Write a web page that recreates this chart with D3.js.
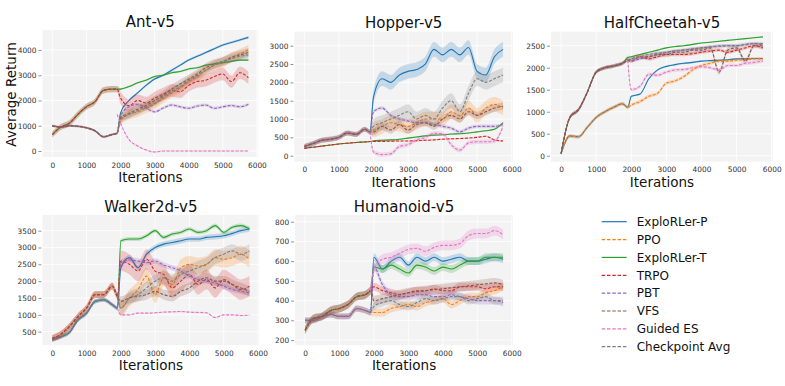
<!DOCTYPE html>
<html>
<head>
<meta charset="utf-8">
<script src="https://cdn.jsdelivr.net/npm/d3@7"></script>
<style>
  body { margin: 0; background: #fff; }
  svg { display: block; font-family: "DejaVu Sans", sans-serif; }
</style>
</head>
<body>
<script>
var iters = [0, 250, 500, 750, 1000, 1250, 1500, 1750, 1900, 2000, 2250, 2500, 2750,
             3000, 3250, 3500, 3750, 4000, 4250, 4500, 4750, 5000, 5250, 5500, 5750];

var methods = ['ExploRLer-P', 'PPO', 'ExploRLer-T', 'TRPO', 'PBT', 'VFS', 'Guided ES', 'Checkpoint Avg'];
var xTicks = [0, 1000, 2000, 3000, 4000, 5000, 6000];

// rows follow `methods`; null = no curve drawn there
var antReturns = [
  [1000,950,1000,980,920,800,560,650,700, 1500,2000,2300,2600,2850,3000,3200,3400,3600,3750,3900,4050,4200,4300,4400,4500],
  [1000,950,1000,980,920,800,560,650,700, 1200,1450,1550,1700,1850,2100,2300,2500,2750,2950,3200,3400,3500,3700,3850,4000],
  [650,950,1100,1450,1750,1950,2400,2450,2450, 2450,2550,2700,2800,2950,3000,3100,3150,3250,3300,3400,3450,3500,3550,3600,3600],
  [650,950,1100,1450,1750,1950,2400,2450,2450, 2100,1800,2000,1900,2100,2250,2400,2350,2600,2750,2800,2950,3050,2750,3100,2900],
  [1000,950,1000,980,920,800,560,650,700, 1400,1750,1850,1700,1550,1700,1820,1750,1690,1780,1820,1690,1750,1800,1750,1850],
  [1000,950,1000,980,920,800,560,650,700, 1300,1500,1650,1800,2000,2200,2450,2650,2850,3050,3300,3450,3550,3700,3800,3900],
  [null,null,null,null,null,null,null,null,1450, 1100,450,200,40,-40,0,0,0,0,0,0,0,0,0,0,0],
  [null,null,null,null,null,null,null,null,700, 1250,1450,1600,1750,1900,2150,2350,2550,2800,3000,3200,3400,3550,3650,3750,3800]
];
var antSpread = [[40,50],[40,200],[120,40],[120,250],[40,60],[40,180],[30,30],[40,150]];
var antTicks = [0, 1000, 2000, 3000, 4000];

var hopperReturns = [
  [250,330,420,450,500,620,580,720,650, 1600,2100,2000,2200,2300,2350,2500,2900,2750,2900,2750,2950,2300,2200,2700,2900],
  [250,330,420,450,500,620,580,720,650, 700,800,900,850,800,900,1000,1000,1000,1200,1100,1300,1100,1300,1400,1300],
  [200,230,260,290,320,340,360,375,385, 400,420,430,450,480,510,540,560,570,590,600,620,650,680,720,900],
  [200,230,260,290,320,340,360,375,385, 390,390,395,400,400,410,420,430,450,460,470,480,500,530,430,400],
  [250,330,420,450,500,620,580,720,650, 1200,1300,1100,1000,950,900,900,850,800,750,650,750,800,800,800,850],
  [250,330,420,450,500,620,580,720,650, 650,800,700,850,700,850,900,800,1000,1100,1000,1200,1100,1200,1300,1350],
  [null,null,null,null,null,null,null,null,650, 100,30,50,250,300,430,500,610,600,300,150,350,380,380,400,800],
  [null,null,null,null,null,null,null,null,650, 800,900,1000,1100,1200,1000,1100,1000,1300,1500,1200,1700,2100,2000,2100,2200]
];
var hopperSpread = [[60,200],[60,200],[10,20],[10,20],[70,50],[70,100],[60,60],[60,200]];
var hopperTicks = [0, 500, 1000, 1500, 2000, 2500, 3000];

var cheetahReturns = [
  [50,450,430,650,870,1000,1100,1180,1100, 1350,1400,1750,1950,2030,2070,2100,2120,2150,2160,2170,2180,2200,2200,2210,2210],
  [50,450,430,650,870,1000,1100,1180,1100, 1150,1230,1350,1420,1650,1700,1800,1950,2050,2100,2150,2150,2170,2180,2200,2200],
  [50,870,1050,1450,1900,2000,2040,2100,2230, 2250,2300,2350,2400,2450,2480,2500,2530,2560,2580,2600,2620,2640,2660,2680,2700],
  [50,870,1050,1450,1900,2000,2040,2100,2170, 2150,2250,2200,2250,2300,2300,2300,2320,2350,2380,2400,2350,2400,2450,2500,2450],
  [50,870,1050,1450,1900,2000,2040,2100,2170, 2150,2200,2250,2300,2350,2380,2400,2420,2450,2470,2500,2500,2500,2520,2550,2520],
  [50,870,1050,1450,1900,2000,2040,2100,2170, 2200,2250,2250,2300,2300,2350,2350,2400,2400,2450,1900,2400,2450,2150,2500,2500],
  [null,null,null,null,null,null,null,null,2170, 1500,1580,1850,1830,1900,1950,1960,2000,2020,2000,1950,2050,2050,2100,2120,2150],
  [null,null,null,null,null,null,null,null,2170, 2200,2250,2300,2330,2350,2380,2400,2430,2450,2470,2480,2500,2500,2530,2550,2550]
];
var cheetahSpread = [[40,20],[40,40],[40,15],[40,40],[40,30],[40,60],[40,40],[40,40]];
var cheetahTicks = [0, 500, 1000, 1500, 2000, 2500];

var walkerReturns = [
  [270,350,480,850,1050,1400,1450,1300,1200, 2400,2700,2400,2800,3000,3100,3150,3200,3250,3250,3300,3320,3350,3420,3500,3550],
  [300,420,650,950,1200,1600,1600,1850,1550, 1200,1500,1750,2150,1600,2100,1900,2400,2500,2450,2500,2700,2650,2700,2800,2650],
  [270,350,480,850,1050,1400,1450,1300,1200, 3200,3250,3250,3350,3500,3300,3400,3450,3550,3450,3500,3650,3450,3600,3650,3550],
  [300,420,650,950,1200,1600,1600,1850,1550, 2600,2500,2300,2650,2300,2200,1800,2000,2200,1900,2050,1800,2050,1900,1750,1850],
  [270,350,480,850,1050,1400,1450,1300,1200, 2550,2630,2600,2550,2600,2480,2400,2300,2150,2050,2000,1950,1850,1750,1700,1650],
  [300,420,650,950,1200,1600,1600,1850,1550, 1400,1500,1550,1600,1700,1600,1550,1700,1800,2000,2100,2000,2000,1900,1800,1700],
  [null,null,null,null,null,null,null,null,1200, 1000,1000,1050,1050,1060,1080,1090,1100,1080,1070,1060,920,1000,1000,980,990],
  [null,null,null,null,null,null,null,null,1550, 1200,1500,1600,1800,2000,2100,2000,2200,2300,2400,2500,2700,2800,2900,2800,2900]
];
var walkerSpread = [[60,80],[100,250],[60,60],[100,300],[60,80],[100,150],[60,20],[100,200]];
var walkerTicks = [500, 1000, 1500, 2000, 2500, 3000, 3500];

var humanoidReturns = [
  [300,300,320,330,320,320,360,350,340, 620,560,600,620,580,620,600,620,600,610,620,600,600,610,620,610],
  [300,300,320,330,320,320,360,350,340, 340,340,360,370,380,370,390,400,410,380,400,420,420,440,450,470],
  [250,310,320,350,360,380,420,430,450, 570,560,580,560,540,580,570,550,570,560,580,600,600,620,620,620],
  [250,310,320,350,360,380,420,430,450, 470,450,440,430,440,450,450,460,450,450,470,470,470,460,470,470],
  [300,300,320,330,320,320,360,350,340, 570,480,430,420,420,430,430,420,420,430,420,410,400,400,400,390],
  [250,310,320,350,360,380,420,430,450, 400,410,420,430,440,445,450,455,460,465,470,475,480,485,490,480],
  [null,null,null,null,null,null,null,null,450, 560,610,620,640,660,665,650,670,680,680,690,730,740,740,755,735],
  [null,null,null,null,null,null,null,null,340, 370,390,400,380,370,390,410,400,410,420,420,400,410,420,400,400]
];
var humanoidSpread = [[15,20],[15,20],[20,20],[20,20],[15,20],[20,25],[20,25],[15,20]];
var humanoidTicks = [200, 300, 400, 500, 600, 700, 800];

// styling
var colors = ['#1f77b4', '#ff7f0e', '#2ca02c', '#d62728', '#9467bd', '#8c564b', '#e377c2', '#7f7f7f'];
var dashed = [false, true, false, true, true, true, true, true];

var panels = [
  {title: 'Ant-v5', data: antReturns, spread: antSpread, ticks: antTicks,
   left: 42.5, right: 258.2, top: 30, bottom: 157, ydom: [-238, 4792], ylabel: true},
  {title: 'Hopper-v5', data: hopperReturns, spread: hopperSpread, ticks: hopperTicks,
   left: 294.4, right: 513, top: 31.7, bottom: 161.7, ydom: [-164, 3382]},
  {title: 'HalfCheetah-v5', data: cheetahReturns, spread: cheetahSpread, ticks: cheetahTicks,
   left: 551, right: 773, top: 31.7, bottom: 161.7, ydom: [-136, 2818]},
  {title: 'Walker2d-v5', data: walkerReturns, spread: walkerSpread, ticks: walkerTicks,
   left: 42.4, right: 259.3, top: 215, bottom: 345, ydom: [104, 3965]},
  {title: 'Humanoid-v5', data: humanoidReturns, spread: humanoidSpread, ticks: humanoidTicks,
   left: 295.1, right: 513, top: 215, bottom: 345, ydom: [175, 834]}
];

var svg = d3.select('body').append('svg').attr('width', 785).attr('height', 386);

panels.forEach(function(p, pi){
  var x = d3.scaleLinear().domain([-287.5, 6037.5]).range([p.left, p.right]);
  var y = d3.scaleLinear().domain(p.ydom).range([p.bottom, p.top]);
  var g = svg.append('g');

  g.append('rect')
    .attr('x', p.left).attr('y', p.top)
    .attr('width', p.right - p.left).attr('height', p.bottom - p.top)
    .attr('fill', '#f3f3f4');

  // white grid
  g.selectAll('line.gx').data(xTicks.filter(function(t){ return x(t) < p.right; })).enter()
    .append('line')
    .attr('x1', function(d){ return x(d); }).attr('x2', function(d){ return x(d); })
    .attr('y1', p.top).attr('y2', p.bottom)
    .attr('stroke', '#fff').attr('stroke-width', 0.8);
  g.selectAll('line.gy').data(p.ticks).enter()
    .append('line')
    .attr('y1', function(d){ return y(d); }).attr('y2', function(d){ return y(d); })
    .attr('x1', p.left).attr('x2', p.right)
    .attr('stroke', '#fff').attr('stroke-width', 0.8);

  g.append('clipPath').attr('id', 'clip' + pi)
    .append('rect')
    .attr('x', p.left).attr('y', p.top)
    .attr('width', p.right - p.left).attr('height', p.bottom - p.top);
  var plot = g.append('g').attr('clip-path', 'url(#clip' + pi + ')');

  var has = function(d){ return d.v != null; };
  var area = d3.area().curve(d3.curveMonotoneX).defined(has)
    .x(function(d){ return x(d.it); })
    .y0(function(d){ return y(d.v - d.s); })
    .y1(function(d){ return y(d.v + d.s); });
  var line = d3.line().curve(d3.curveMonotoneX).defined(has)
    .x(function(d){ return x(d.it); })
    .y(function(d){ return y(d.v); });

  p.data.forEach(function(vals, si){
    var pts = iters.map(function(it, i){
      return {it: it, v: vals[i], s: it < 1950 ? p.spread[si][0] : p.spread[si][1]};
    });
    plot.append('path').attr('d', area(pts))
      .attr('fill', colors[si]).attr('fill-opacity', 0.22).attr('stroke', 'none');
    plot.append('path').attr('d', line(pts))
      .attr('fill', 'none').attr('stroke', colors[si]).attr('stroke-width', 1.1)
      .attr('stroke-dasharray', dashed[si] ? '3,1.6' : null);
  });

  // axes
  var yAxis = g.append('g').attr('transform', 'translate(' + (p.left - 1) + ',0)')
    .call(d3.axisLeft(y).tickValues(p.ticks).tickSize(3).tickPadding(2).tickFormat(d3.format('d')));
  var xAxis = g.append('g').attr('transform', 'translate(0,' + p.bottom + ')')
    .call(d3.axisBottom(x).tickValues(xTicks).tickSize(0).tickPadding(5.5).tickFormat(d3.format('d')));
  [yAxis, xAxis].forEach(function(a){
    a.select('.domain').remove();
    a.selectAll('line').attr('stroke', '#666').attr('stroke-width', 0.7);
    a.selectAll('text').attr('fill', '#333').style('font-size', '7.4px')
      .style('font-family', '"DejaVu Sans", sans-serif');
  });

  g.append('text')
    .attr('x', (p.left + p.right) / 2).attr('y', p.top - 3.5)
    .attr('text-anchor', 'middle').style('font-size', '15px').attr('fill', '#111')
    .text(p.title);
  g.append('text')
    .attr('x', (p.left + p.right) / 2).attr('y', p.bottom + 25)
    .attr('text-anchor', 'middle').style('font-size', '13.5px').attr('fill', '#111')
    .text('Iterations');
  if (p.ylabel) {
    g.append('text')
      .attr('transform', 'translate(16,' + ((p.top + p.bottom) / 2 + 1) + ') rotate(-90)')
      .attr('text-anchor', 'middle').style('font-size', '13.5px').attr('fill', '#111')
      .text('Average Return');
  }
});

// legend
var legend = svg.append('g').attr('transform', 'translate(601.7,221.7)');
methods.forEach(function(m, i){
  var row = legend.append('g').attr('transform', 'translate(0,' + (i * 17.86) + ')');
  row.append('line').attr('x1', 0).attr('x2', 25).attr('y1', 0).attr('y2', 0)
    .attr('stroke', colors[i]).attr('stroke-width', 1.2)
    .attr('stroke-dasharray', dashed[i] ? '3.5,1.8' : null);
  row.append('text').attr('x', 35).attr('y', 4.3)
    .style('font-size', '12px').attr('fill', '#111').text(m);
});
</script>
</body>
</html>
